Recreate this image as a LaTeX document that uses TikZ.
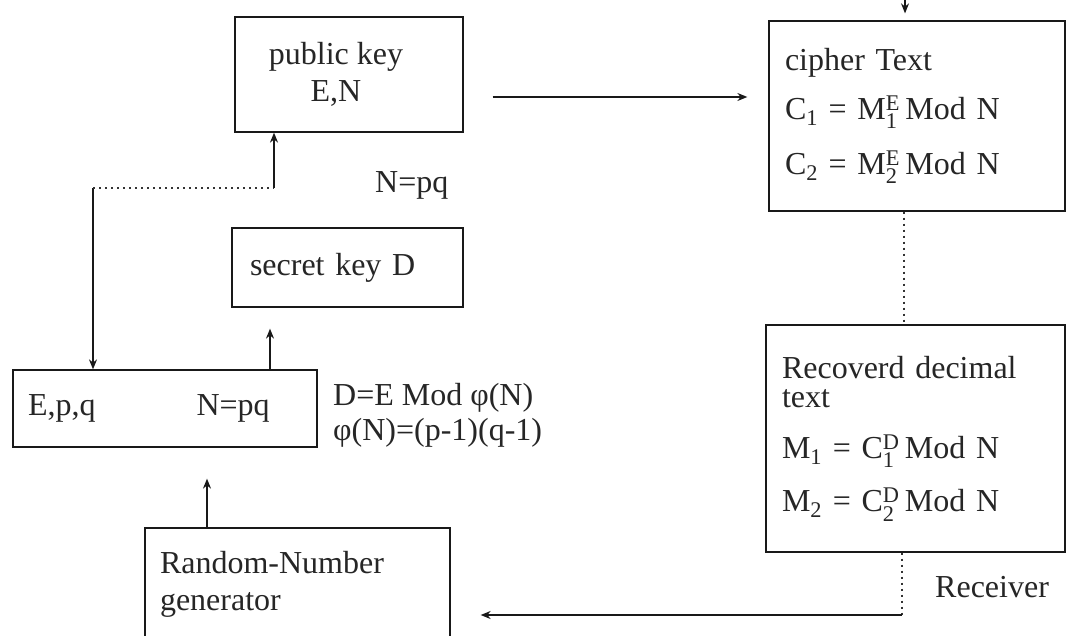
\documentclass[tikz,border=0pt]{standalone}
\usepackage{fontspec}
\usepackage{amsmath}
\setmainfont{Liberation Serif}
\usetikzlibrary{arrows.meta,calc}
\begin{document}
\begin{tikzpicture}[x=1pt,y=-1pt,
  every node/.style={font=\fontsize{32}{37}\selectfont, text=black!85},
  box/.style={draw=black!90, line width=1.3pt, rectangle, inner ysep=0pt},
  arr/.style={draw=black!90, line width=1.2pt, -{Stealth[length=10pt,width=8pt]}},
  dotline/.style={draw=black!80, line width=1.2pt, dash pattern=on 2pt off 4pt},
  lbl/.style={inner sep=0pt, anchor=west}
]
\useasboundingbox (0,0) rectangle (1067,636);
\clip (0,0) rectangle (1067,636);
\fill[white] (0,0) rectangle (1067,636);

% boxes
\node[box, minimum width=228pt, minimum height=115pt, align=center] (pub) at (349,74.5) {public key\hspace*{26pt}\\E,N\hspace*{26pt}};
\node[box, minimum width=296pt, minimum height=190pt, align=left, text width=264pt, inner xsep=16pt] (cipher) at (917,116)
  {cipher Text\\[12pt]
   C\textsubscript{1} = M$^{\text{E}}_{\text{1}}$\,Mod N\\[18pt]
   C\textsubscript{2} = M$^{\text{E}}_{\text{2}}$\,Mod N};
\node[box, minimum width=231pt, minimum height=79pt, align=left, text width=195pt, inner xsep=18pt] (secret) at (347.5,267.5) {secret key D};
\node[box, minimum width=299pt, minimum height=227pt, align=left, text width=267pt, inner xsep=16pt] (rec) at (915.5,438.5)
  {Recoverd decimal\\[-8pt]
   text\\[14pt]
   M\textsubscript{1} = C$^{\text{D}}_{\text{1}}$\,Mod N\\[16pt]
   M\textsubscript{2} = C$^{\text{D}}_{\text{2}}$\,Mod N};
\node[box, minimum width=304pt, minimum height=77pt, align=left, text width=274pt, inner xsep=15pt] (epq) at (165,408.5) {E,p,q\hspace*{101pt}N=pq};
\node[box, minimum width=305pt, minimum height=112pt, align=left, text width=275pt, inner xsep=15pt] (rnd) at (297.5,584) {Random-Number\\generator};

% labels
\node[lbl] (npq) at (375,185) {N=pq};
\node[lbl, align=left] (dem) at (333,415) {D=E Mod φ(N)\\[-2pt]φ(N)=(p-1)(q-1)};
\node[lbl] (recv) at (935,587) {Receiver};

% connectors
\draw[arr, shorten <=29pt, shorten >=21pt] ([yshift=-22.5pt]pub.east) -- ([yshift=-22.5pt]pub.east -| cipher.west);

\coordinate (topin) at (905,-4);
\draw[arr, shorten >=7pt] (topin) -- (topin |- cipher.north);

\coordinate (c1) at ([xshift=-13pt]cipher.south);
\draw[dotline] (c1) -- (c1 |- rec.north);

\coordinate (r1) at ([xshift=-13.5pt]rec.south);
\coordinate (rcorner) at (902,615);
\draw[dotline] (r1) -- (rcorner);
\draw[arr, shorten >=30pt] (rcorner) -- (rcorner -| rnd.east);

\coordinate (g1) at ([xshift=-90.5pt]rnd.north);
\draw[arr, shorten >=31pt] (g1) -- (g1 |- epq.south);

\coordinate (e1) at ([xshift=105pt]epq.north);
\draw[arr, shorten >=21pt] (e1) -- (e1 |- secret.south);

\coordinate (k1) at (93,188);
\coordinate (k2) at (274,188);
\draw[arr] (k1) -- (k1 |- epq.north);
\draw[dotline] (k1) -- (k2);
\draw[arr] (k2) -- (k2 |- pub.south);
\end{tikzpicture}
\end{document}
